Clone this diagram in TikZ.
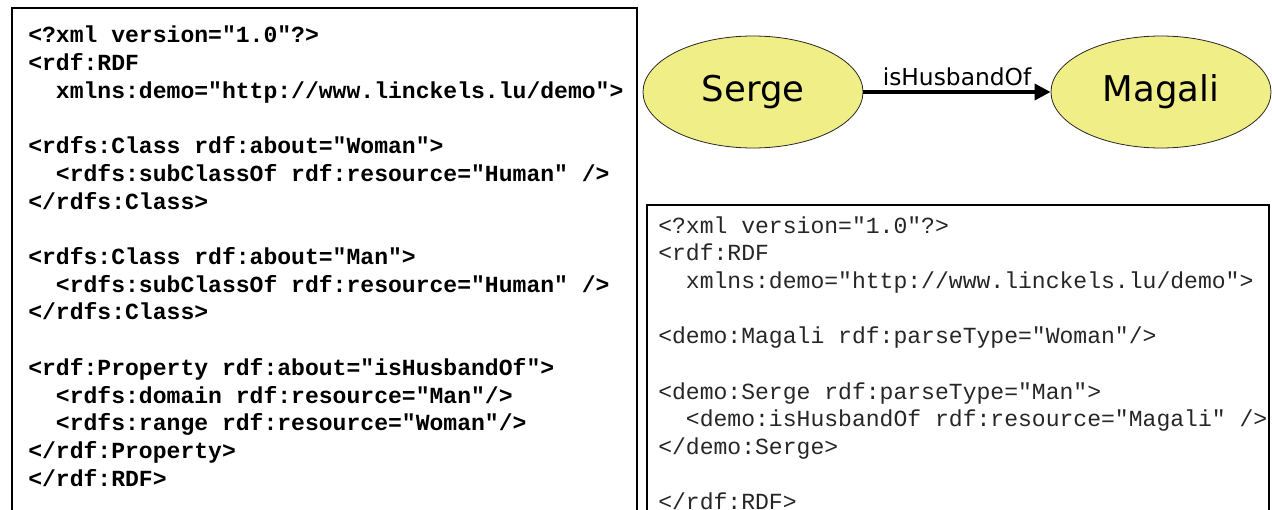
\documentclass[tikz,border=0pt]{standalone}
\usepackage{fontspec}
\usetikzlibrary{shapes.geometric,arrows.meta}
\newfontfamily\codefont{Liberation Mono}
\newfontfamily\graphfont{DejaVu Sans}
\definecolor{nodefill}{RGB}{240,238,134}

\begin{document}
\begin{tikzpicture}[x=0.75pt,y=-0.75pt,
  frame/.style={line width=1.1pt,black},
  schema/.style={anchor=base west,inner sep=0pt,
    font=\codefont\bfseries\fontsize{17.3pt}{20.77pt}\selectfont},
  instance/.style={anchor=base west,inner sep=0pt,text=black!85,
    font=\codefont\fontsize{17.3pt}{20.77pt}\selectfont},
  resource/.style={ellipse,draw=black!85,line width=0.6pt,fill=nodefill,
    minimum width=165pt,minimum height=84pt,inner sep=0pt,
    font=\graphfont\fontsize{26.6pt}{30pt}\selectfont},
  relation/.style={line width=2.8pt,-{Triangle[length=12pt,width=12pt]}},
  relationlabel/.style={font=\graphfont\fontsize{17.5pt}{20pt}\selectfont}
]
\useasboundingbox (0,0) rectangle (1272,510);
\clip (0,0) rectangle (1272,510);

% RDF Schema listing
\draw[frame] (12,530) -- (12,8) -- (637,8) -- (637,530);
\node[schema] (schemacode) at (28,43) {\begin{tabular}[t]{@{}l@{}}
<?xml version="1.0"?>\\
<rdf:RDF\\
\hspace*{1.2em}xmlns:demo="http://www.linckels.lu/demo">\\
\\
<rdfs:Class rdf:about="Woman">\\
\hspace*{1.2em}<rdfs:subClassOf rdf:resource="Human" />\\
</rdfs:Class>\\
\\
<rdfs:Class rdf:about="Man">\\
\hspace*{1.2em}<rdfs:subClassOf rdf:resource="Human" />\\
</rdfs:Class>\\
\\
<rdf:Property rdf:about="isHusbandOf">\\
\hspace*{1.2em}<rdfs:domain rdf:resource="Man"/>\\
\hspace*{1.2em}<rdfs:range rdf:resource="Woman"/>\\
</rdf:Property>\\
</rdf:RDF>
\end{tabular}};

% graph of the two resources
\node[resource] (serge) at (753,92) {Serge};
\node[resource] (magali) at (1161,92) {Magali};
\draw[relation] (serge) -- node[above,relationlabel] {isHusbandOf} (magali);

% RDF instance listing
\draw[frame] (647,530) -- (647,205) -- (1269,205) -- (1269,530);
\node[instance] (instancecode) at (658,233) {\begin{tabular}[t]{@{}l@{}}
<?xml version="1.0"?>\\
<rdf:RDF\\
\hspace*{1.2em}xmlns:demo="http://www.linckels.lu/demo">\\
\\
<demo:Magali rdf:parseType="Woman"/>\\
\\
<demo:Serge rdf:parseType="Man">\\
\hspace*{1.2em}<demo:isHusbandOf rdf:resource="Magali" />\\
</demo:Serge>\\
\\
</rdf:RDF>
\end{tabular}};
\end{tikzpicture}
\end{document}
